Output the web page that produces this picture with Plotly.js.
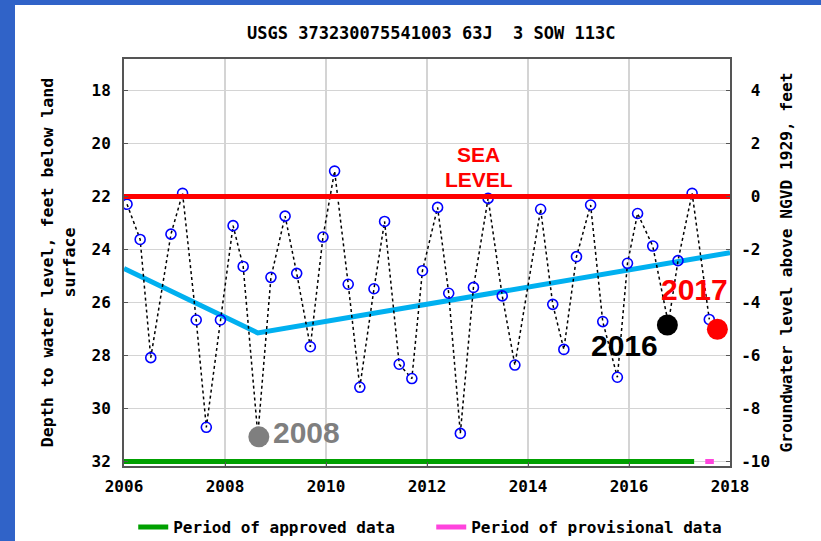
<!DOCTYPE html>
<html>
<head>
<meta charset="utf-8">
<script src="https://cdn.plot.ly/plotly-3.0.1.min.js"></script>
<style>
  html, body { margin: 0; padding: 0; background: #3063c8; width: 821px; height: 541px; overflow: hidden; }
  #chart { position: absolute; left: 15px; top: 5px; width: 806px; height: 536px; background: #ffffff; }
</style>
</head>
<body>
<div id="chart"></div>
<script>
// Periodic water-level measurements (decimal year, depth below land surface in feet)
var obsYears = [
  2006.06, 2006.32, 2006.53, 2006.93, 2007.16, 2007.43, 2007.63, 2007.91,
  2008.16, 2008.36, 2008.65, 2008.91, 2009.19, 2009.42, 2009.69, 2009.94,
  2010.17, 2010.44, 2010.67, 2010.95, 2011.16, 2011.45, 2011.70, 2011.91,
  2012.21, 2012.43, 2012.66, 2012.92, 2013.21, 2013.49, 2013.74, 2014.25,
  2014.49, 2014.71, 2014.96, 2015.24, 2015.48, 2015.77, 2015.97, 2016.17,
  2016.47, 2016.78, 2016.97, 2017.25, 2017.59
];
var obsDepths = [
  22.29, 23.62, 28.08, 23.42, 21.88, 26.66, 30.71, 26.66,
  23.10, 24.64, 31.00, 25.05, 22.74, 24.90, 27.67, 23.53,
  21.04, 25.31, 29.20, 25.48, 22.94, 28.33, 28.87, 24.80,
  22.41, 25.65, 30.94, 25.43, 22.07, 25.75, 28.36, 22.48,
  26.07, 27.77, 24.27, 22.32, 26.72, 28.82, 24.52, 22.64,
  23.87, 26.80, 24.42, 21.88, 26.64
];

// Trend of the seasonal lows (decimal year, depth in feet)
var trendYears = [2006.0, 2008.65, 2018.0];
var trendDepths = [24.72, 27.15, 24.12];

// Sea level on the NGVD 1929 datum (feet)
var seaYears = [2006.0, 2018.0];
var seaNgvd = [0, 0];

// Data-status periods, drawn along the bottom at 32 ft
var approvedYears = [2006.0, 2017.29];
var approvedDepths = [32, 32];
var provisionalYears = [2017.51, 2017.68];
var provisionalDepths = [32, 32];

// Highlighted years
var markYears = [2008.67, 2016.76, 2017.75];
var markDepths = [31.07, 26.85, 27.01];
var markLabels = ['2008', '2016', '2017'];
var markColors = ['#7f7f7f', '#000000', '#ff0000'];

// Axis ticks
var xTicks = [2006, 2008, 2010, 2012, 2014, 2016, 2018];
var depthTicks = [18, 20, 22, 24, 26, 28, 30, 32];
var ngvdTicks = [4, 2, 0, -2, -4, -6, -8, -10];
var ngvdTickText = ngvdTicks.map(function (v) { return v < 0 ? String(v) : '\u00a0' + v; });

var mono = 'DejaVu Sans Mono, monospace';
var sans = 'Liberation Sans, Arial, sans-serif';
var frame = '#555555';

var traces = [
  {
    x: approvedYears, y: approvedDepths, type: 'scatter', mode: 'lines',
    name: 'Period of approved data',
    line: { color: '#00a000', width: 5 }, hoverinfo: 'skip'
  },
  {
    x: provisionalYears, y: provisionalDepths, type: 'scatter', mode: 'lines',
    name: 'Period of provisional data',
    line: { color: '#ff44dd', width: 5 }, hoverinfo: 'skip'
  },
  {
    x: trendYears, y: trendDepths, type: 'scatter', mode: 'lines',
    showlegend: false, line: { color: '#00b0f0', width: 5 }
  },
  {
    x: obsYears, y: obsDepths, type: 'scatter', mode: 'lines+markers',
    showlegend: false,
    line: { color: '#000000', width: 1.5, dash: 'dot' },
    marker: { symbol: 'circle-open', size: 10, color: '#0000ff', line: { width: 1.6, color: '#0000ff' } }
  },
  {
    x: markYears, y: markDepths, type: 'scatter', mode: 'markers',
    showlegend: false,
    marker: { size: 21, color: markColors, line: { width: 0 } }
  },
  {
    x: seaYears, y: seaNgvd, yaxis: 'y2', type: 'scatter', mode: 'lines',
    showlegend: false, line: { color: '#ff0000', width: 5 }
  }
];

function bigLabel(i, x, y) {
  return {
    x: x, y: y, xref: 'x', yref: 'y', text: markLabels[i], showarrow: false,
    xanchor: 'center', yanchor: 'middle',
    font: { family: sans, size: 30, weight: 'bold', color: markColors[i] }
  };
}

var layout = {
  width: 806, height: 536,
  margin: { l: 109, r: 91, t: 54, b: 75, autoexpand: false },
  paper_bgcolor: '#ffffff', plot_bgcolor: '#ffffff',
  showlegend: true,
  title: {
    text: 'USGS 373230075541003 63J  3 SOW 113C',
    font: { family: mono, size: 17, weight: 'bold', color: '#000000' },
    xref: 'paper', x: 0.507, xanchor: 'center',
    yref: 'container', y: 0.948, yanchor: 'middle'
  },
  xaxis: {
    range: [2006, 2018], tickvals: xTicks, tickformat: 'd',
    showgrid: true, gridcolor: '#d4d4d4', gridwidth: 1.5,
    showline: true, linecolor: frame, linewidth: 2, mirror: true,
    ticks: 'inside', ticklen: 4, tickcolor: frame,
    ticklabelstandoff: 5,
    tickfont: { family: mono, size: 16, weight: 'bold', color: '#000000' },
    zeroline: false, fixedrange: true
  },
  yaxis: {
    range: [32.17, 16.81], tickvals: depthTicks,
    showgrid: true, gridcolor: '#d4d4d4', gridwidth: 1.5,
    showline: true, linecolor: frame, linewidth: 2, mirror: true,
    ticks: 'inside', ticklen: 4, tickcolor: frame,
    ticklabelstandoff: 8,
    tickfont: { family: mono, size: 16, weight: 'bold', color: '#000000' },
    title: {
      text: 'Depth to water level, feet below land<br>surface',
      font: { family: mono, size: 16.6, weight: 'bold', color: '#000000' },
      standoff: 12
    },
    zeroline: false, fixedrange: true
  },
  yaxis2: {
    range: [-10.17, 5.19], tickvals: ngvdTicks, ticktext: ngvdTickText,
    overlaying: 'y', side: 'right', showgrid: false,
    showline: true, linecolor: frame, linewidth: 2,
    ticks: 'inside', ticklen: 4, tickcolor: frame,
    ticklabelstandoff: 6,
    tickfont: { family: mono, size: 16, weight: 'bold', color: '#000000' },
    title: {
      text: 'Groundwater level above NGVD 1929, feet',
      font: { family: mono, size: 16.2, weight: 'bold', color: '#000000' },
      standoff: 12
    },
    zeroline: false, fixedrange: true
  },
  legend: {
    orientation: 'h', xref: 'paper', x: 0.507, xanchor: 'center',
    yref: 'container', y: 0.026, yanchor: 'middle',
    font: { family: mono, size: 16, weight: 'bold', color: '#000000' },
    itemwidth: 30, entrywidth: 253, bgcolor: 'rgba(0,0,0,0)'
  },
  annotations: [
    {
      x: 2013.01, y: 20.42, xref: 'x', yref: 'y', text: 'SEA', showarrow: false,
      xanchor: 'center', yanchor: 'middle',
      font: { family: sans, size: 21, weight: 'bold', color: '#ff0000' }
    },
    {
      x: 2013.02, y: 21.36, xref: 'x', yref: 'y', text: 'LEVEL', showarrow: false,
      xanchor: 'center', yanchor: 'middle',
      font: { family: sans, size: 21, weight: 'bold', color: '#ff0000' }
    },
    bigLabel(0, 2009.62, 30.91),
    bigLabel(1, 2015.92, 27.64),
    bigLabel(2, 2017.30, 25.50)
  ]
};

Plotly.newPlot('chart', traces, layout, { staticPlot: true, displayModeBar: false });
</script>
</body>
</html>
